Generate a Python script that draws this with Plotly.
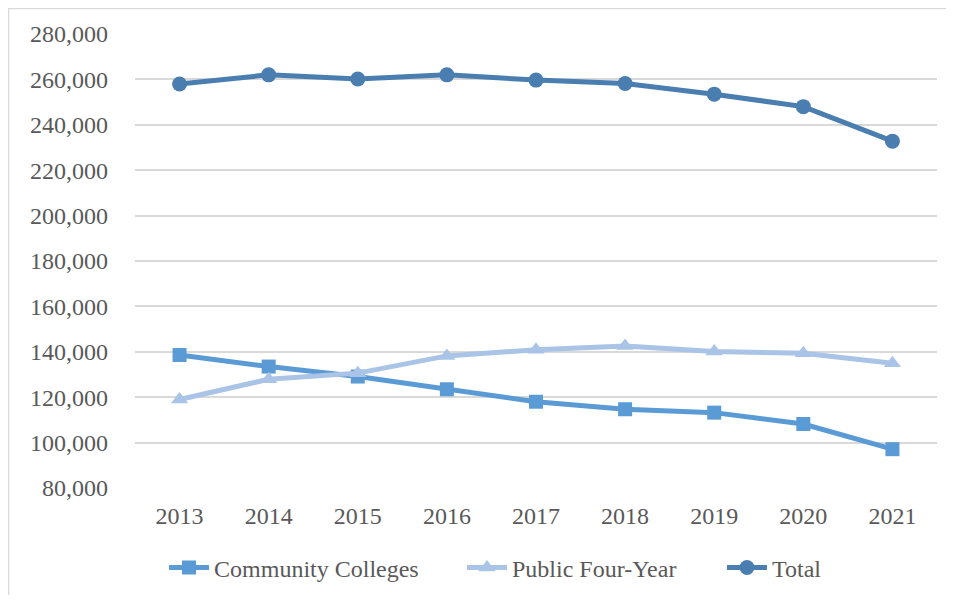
import plotly.graph_objects as go

years = ["2013", "2014", "2015", "2016", "2017", "2018", "2019", "2020", "2021"]
community_colleges = [138600, 133500, 129100, 123500, 118000, 114700, 113200, 108200, 97100]
public_four_year = [119000, 127900, 130600, 138200, 140900, 142600, 140100, 139400, 135000]
total = [258000, 262000, 260200, 262000, 259700, 258200, 253500, 248000, 232800]
y_ticks = list(range(80000, 280001, 20000))

c_cc = "#5B9BD5"
c_pf = "#A9C4E6"
c_tot = "#4A7EB0"
font_family = "Liberation Serif"
fs = 24
txt = "#595959"

fig = go.Figure()
fig.add_trace(go.Scatter(x=years, y=community_colleges, name="Community Colleges",
                         mode="lines+markers", legend="legend",
                         line=dict(color=c_cc, width=5),
                         marker=dict(symbol="square", size=14, color=c_cc)))
fig.add_trace(go.Scatter(x=years, y=public_four_year, name="Public Four-Year",
                         mode="lines+markers", legend="legend2",
                         line=dict(color=c_pf, width=5),
                         marker=dict(symbol="triangle-up", size=15, color=c_pf)))
fig.add_trace(go.Scatter(x=years, y=total, name="Total",
                         mode="lines+markers", legend="legend3",
                         line=dict(color=c_tot, width=5),
                         marker=dict(symbol="circle", size=15, color=c_tot)))

leg_common = dict(orientation="h", xanchor="left", y=-0.176, yanchor="middle",
                  font=dict(family=font_family, size=fs, color=txt),
                  bgcolor="rgba(0,0,0,0)", itemwidth=40)

fig.update_layout(
    width=938, height=587,
    margin=dict(l=127, r=9, t=26, b=107, autoexpand=False),
    paper_bgcolor="white", plot_bgcolor="white",
    font=dict(family=font_family, size=fs, color=txt),
    showlegend=True,
    legend=dict(x=0.0362, **leg_common),
    legend2=dict(x=0.4077, **leg_common),
    legend3=dict(x=0.7319, **leg_common),
    xaxis=dict(type="category", range=[-0.5, 8.5], showgrid=False, zeroline=False,
               showline=False, ticks="", ticklabelstandoff=11,
               tickfont=dict(family=font_family, size=fs, color=txt)),
    yaxis=dict(range=[80000, 280000], tickvals=y_ticks, tickformat=",",
               showgrid=True, gridcolor="#D9D9D9", gridwidth=1.5,
               zeroline=False, showline=False, ticks="", ticklabelstandoff=26,
               tickfont=dict(family=font_family, size=fs, color=txt)),
    shapes=[dict(type="rect", xref="paper", yref="paper",
                 x0=-0.1577, x1=1.03, y0=-0.27, y1=1.0562,
                 line=dict(color="#D9D9D9", width=1.5), layer="below")],
)

fig.write_html("out.html")
